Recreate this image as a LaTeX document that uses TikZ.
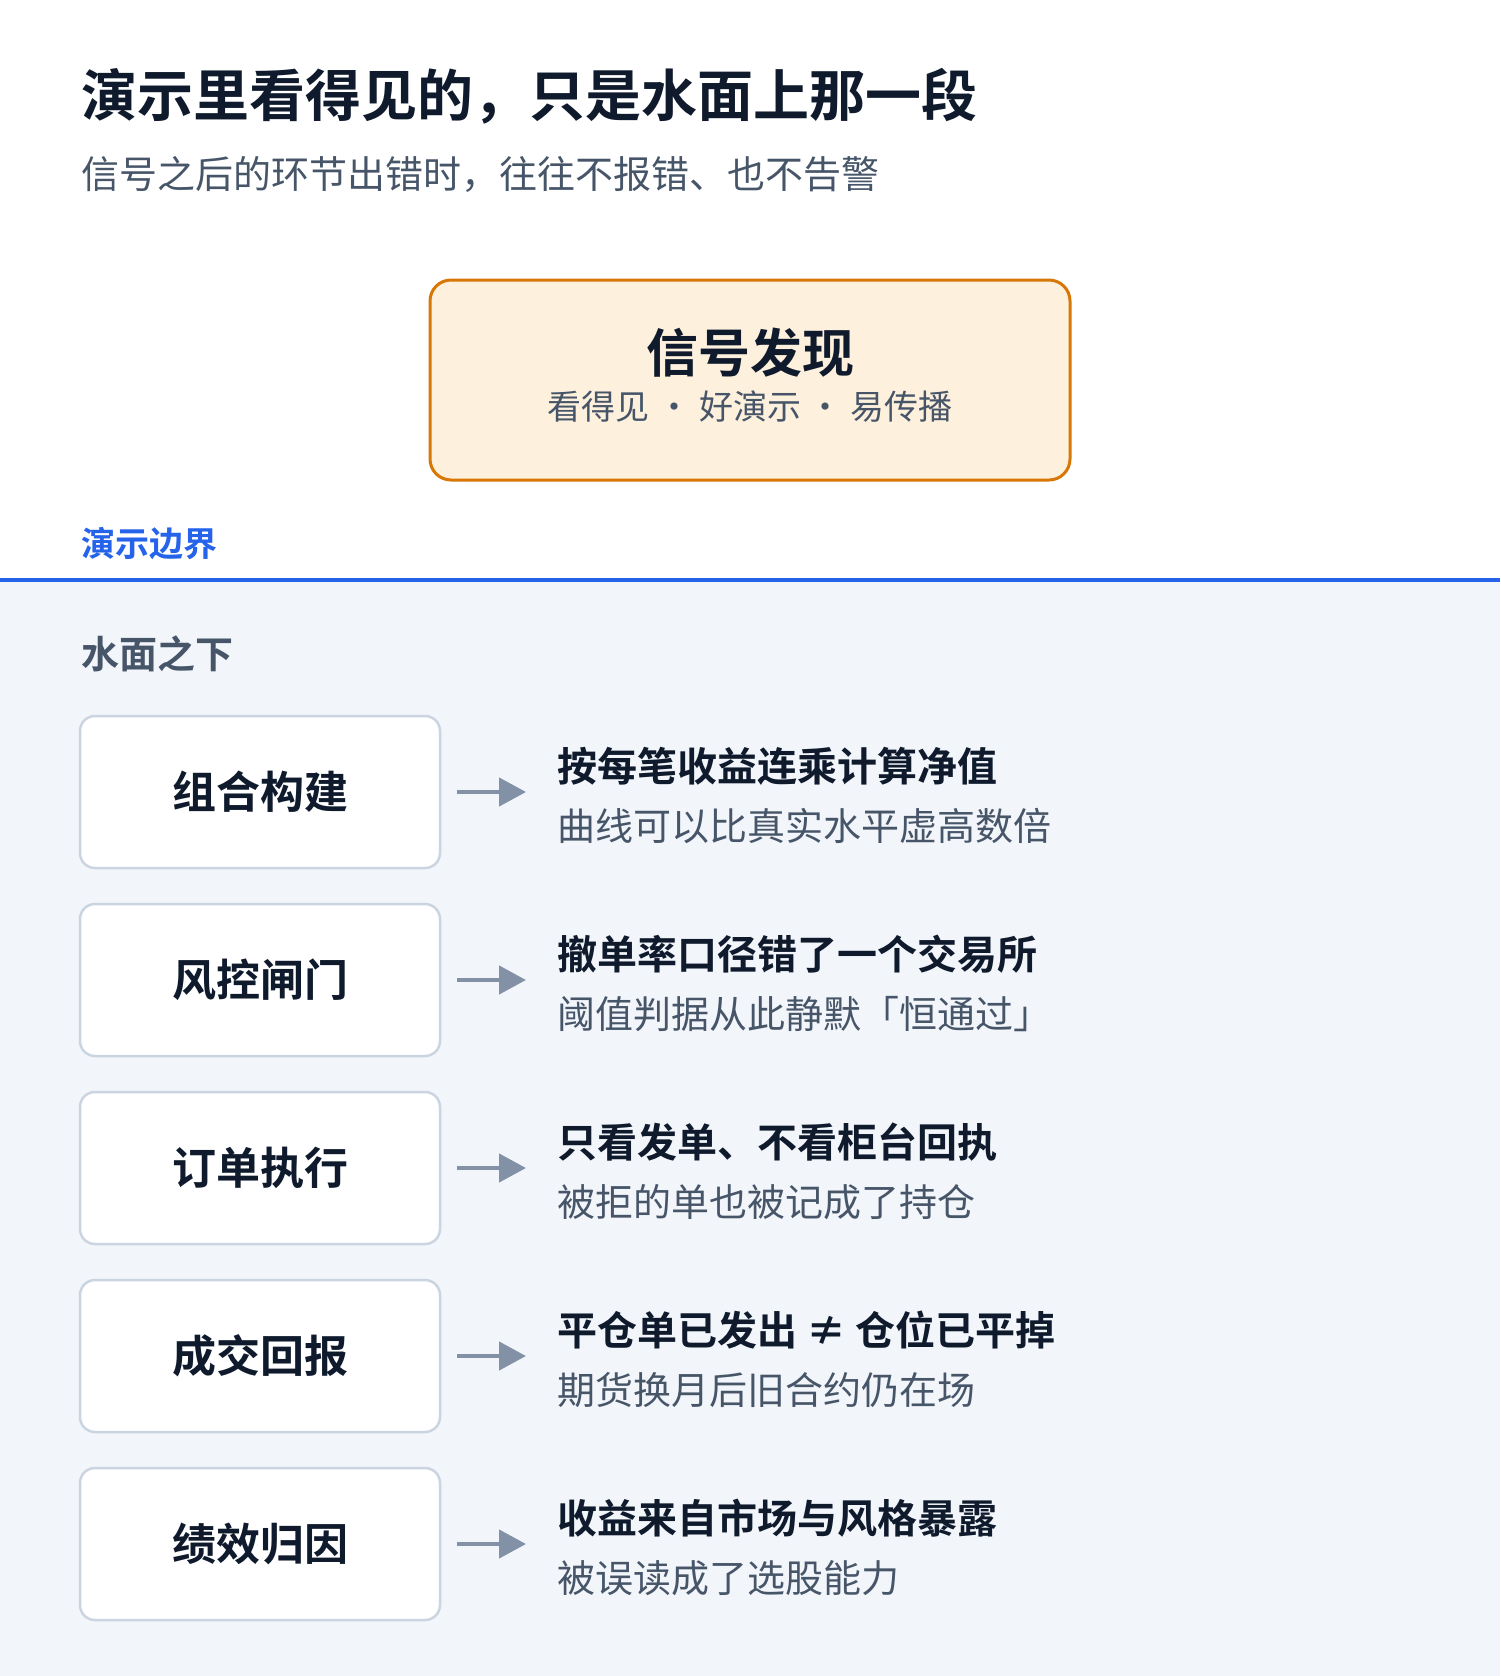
\documentclass[tikz,border=0pt]{standalone}
\usepackage{fontspec}
\setmainfont{Noto Sans CJK SC}[BoldFont={Noto Sans CJK SC Bold}]
\usetikzlibrary{arrows.meta}
\definecolor{ink}{HTML}{0F1B2D}
\definecolor{muted}{HTML}{475569}
\definecolor{orangeb}{HTML}{D97706}
\definecolor{orangef}{HTML}{FDF0DC}
\definecolor{blueline}{HTML}{2563EB}
\definecolor{lowbg}{HTML}{F2F5FA}
\definecolor{boxb}{HTML}{CBD5E1}
\definecolor{arrowc}{HTML}{8391A7}
\newcommand{\fs}[1]{\fontsize{#1}{#1}\selectfont}
\tikzset{
  stagebox/.style={draw=boxb, line width=2.5pt, fill=white, rounded corners=15pt,
    minimum width=360pt, minimum height=152pt, inner sep=0pt,
    font=\fs{44}\bfseries, text=ink},
  headline/.style={anchor=west, inner sep=0pt, font=\fs{40}\bfseries, text=ink},
  subline/.style={anchor=west, inner sep=0pt, font=\fs{38}, text=muted},
  flowarrow/.style={draw=arrowc, line width=4.5pt, -{Triangle[length=27pt,width=28pt]}},
}
\begin{document}
\begin{tikzpicture}[x=1pt,y=-1pt]
\useasboundingbox (0,0) rectangle (1500,1676);
\fill[white] (0,0) rectangle (1500,1676);
\fill[lowbg] (0,580) rectangle (1500,1676);
\draw[blueline, line width=4.5pt] (0,580) -- (1500,580);

\node[anchor=west, inner sep=0pt, font=\fs{56}\bfseries, text=ink] (title) at (81,96) {演示里看得见的，只是水面上那一段};
\node[anchor=west, inner sep=0pt, font=\fs{38}, text=muted] (subtitle) at (81,174) {信号之后的环节出错时，往往不报错、也不告警};

\node[draw=orangeb, line width=3pt, fill=orangef, rounded corners=21pt,
  minimum width=640pt, minimum height=200pt] (signal) at (750,380) {};
\node[inner sep=0pt, font=\fs{52}\bfseries, text=ink] (sigt) at (750,353) {信号发现};
\node[inner sep=0pt, font=\fs{34}, text=muted] (sigs) at (750,407) {看得见 · 好演示 · 易传播};

\node[anchor=west, inner sep=0pt, font=\fs{34}\bfseries, text=blueline] (boundary) at (81,544) {演示边界};
\node[anchor=west, inner sep=0pt, font=\fs{38}\bfseries, text=muted] (below) at (81,654) {水面之下};

\foreach \i/\yc/\lab/\ta/\tb in {
  1/792/组合构建/按每笔收益连乘计算净值/曲线可以比真实水平虚高数倍,
  2/980/风控闸门/撤单率口径错了一个交易所/阈值判据从此静默「恒通过」,
  3/1168/订单执行/只看发单、不看柜台回执/被拒的单也被记成了持仓,
  4/1356/成交回报/平仓单已发出 ≠ 仓位已平掉/期货换月后旧合约仍在场,
  5/1544/绩效归因/收益来自市场与风格暴露/被误读成了选股能力} {
  \node[stagebox] (b\i) at (260,\yc) {\lab};
  \node[headline] (t\i) at (557,\yc-26) {\ta};
  \node[subline] (s\i) at (557,\yc+34) {\tb};
  \coordinate (a\i) at (526,\yc);
  \draw[flowarrow] ([xshift=16pt]b\i.east) -- (a\i);
}
\end{tikzpicture}
\end{document}
